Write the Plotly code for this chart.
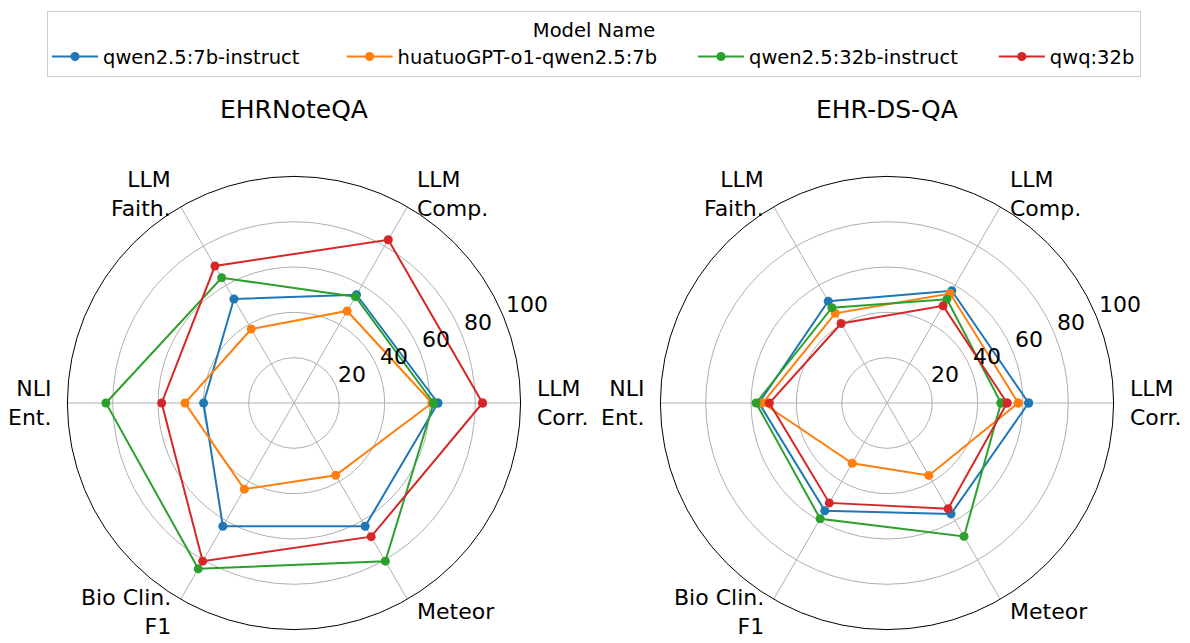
import math
import plotly.graph_objects as go

metrics = ["LLM<br>Corr.", "LLM<br>Comp.", "LLM<br>Faith.", "NLI<br>Ent.", "Bio Clin.<br>F1", "Meteor"]
models = ["qwen2.5:7b-instruct", "huatuoGPT-o1-qwen2.5:7b", "qwen2.5:32b-instruct", "qwq:32b"]
colors = ["#1f77b4", "#ff7f0e", "#2ca02c", "#d62728"]

# EHRNoteQA scores (order of metrics)
ehrnoteqa = {
    "qwen2.5:7b-instruct":      [63.5, 55.2, 53.0, 39.9, 62.8, 62.8],
    "huatuoGPT-o1-qwen2.5:7b":  [60.9, 46.9, 37.7, 48.1, 43.9, 36.8],
    "qwen2.5:32b-instruct":     [61.6, 54.2, 63.8, 83.0, 84.5, 80.6],
    "qwq:32b":                  [83.2, 83.2, 69.8, 58.4, 80.6, 68.1],
}
# EHR-DS-QA scores
ehrdsqa = {
    "qwen2.5:7b-instruct":      [62.5, 57.2, 51.9, 56.5, 54.9, 56.5],
    "huatuoGPT-o1-qwen2.5:7b":  [57.9, 55.8, 45.7, 54.9, 30.7, 36.9],
    "qwen2.5:32b-instruct":     [50.3, 52.9, 48.6, 57.8, 59.0, 68.0],
    "qwq:32b":                  [53.0, 49.5, 40.5, 51.9, 50.9, 53.9],
}
titles = ["EHRNoteQA", "EHR-DS-QA"]
radial_ticks = [20, 40, 60, 80, 100]
R_MAX = 100

W, H = 1190, 643
OFF = 8          # page body margin of the browser
FONT = "DejaVu Sans"
RAD = 226.6
CENTERS = [(294 - OFF, 403 - OFF), (887 - OFF, 403 - OFF)]
LABEL_ANGLE = 22.5

fig = go.Figure()
for pi, data in enumerate([ehrnoteqa, ehrdsqa]):
    sub = "polar" if pi == 0 else "polar2"
    for k, (m, c) in enumerate(zip(models, colors)):
        vals = data[m]
        pad = "\u00a0" * (6 if k == 0 else (5 if k < len(models) - 1 else 0))
        fig.add_trace(go.Scatterpolar(
            r=vals + vals[:1], theta=metrics + metrics[:1],
            mode="lines+markers", name=m + pad,
            subplot=sub,
            line=dict(color=c, width=2), marker=dict(color=c, size=9),
            showlegend=(pi == 0), legendgroup=m,
        ))

def polar_layout(cx, cy, rad):
    return dict(
        domain=dict(x=[(cx - rad) / W, (cx + rad) / W],
                    y=[(H - cy - rad) / H, (H - cy + rad) / H]),
        bgcolor="white",
        radialaxis=dict(range=[0, R_MAX], tickvals=radial_ticks, angle=LABEL_ANGLE,
                        showticklabels=False,
                        showline=False, ticks="", gridcolor="#b0b0b0", gridwidth=1),
        angularaxis=dict(rotation=0, direction="counterclockwise", type="category",
                         showline=True, linecolor="black", linewidth=1,
                         gridcolor="#b0b0b0", gridwidth=1, ticks="",
                         showticklabels=False),
    )

annotations = []
for (cx, cy), t in zip(CENTERS, titles):
    annotations.append(dict(text=t, x=cx / W, y=1 - (110 - OFF) / H, xref="paper", yref="paper",
                            showarrow=False, font=dict(size=25), xanchor="center", yanchor="middle"))
    # angular category labels, just outside the outer circle
    for i, lab in enumerate(metrics):
        ang = math.radians(60 * i)
        rr = RAD + 14.5
        x = cx + rr * math.cos(ang)
        y = cy - rr * math.sin(ang)
        left = math.cos(ang) > 0
        annotations.append(dict(text=lab, x=x / W, y=1 - y / H, xref="paper", yref="paper",
                                showarrow=False, font=dict(size=22),
                                xanchor="left" if left else "right", yanchor="middle",
                                align="left" if left else "right"))
    # radial tick labels along the 22.5 degree direction
    a = math.radians(LABEL_ANGLE)
    for v in radial_ticks:
        d = v / R_MAX * RAD
        x = cx + d * math.cos(a) + 0.5
        y = cy - d * math.sin(a) - 11.5
        annotations.append(dict(text=str(v), x=x / W, y=1 - y / H, xref="paper", yref="paper",
                                showarrow=False, font=dict(size=22),
                                xanchor="left", yanchor="middle"))

fig.update_layout(
    width=W, height=H,
    margin=dict(l=0, r=0, t=0, b=0),
    paper_bgcolor="white", plot_bgcolor="white",
    font=dict(family=FONT, color="black"),
    polar=polar_layout(CENTERS[0][0], CENTERS[0][1], RAD),
    polar2=polar_layout(CENTERS[1][0], CENTERS[1][1], RAD),
    legend=dict(orientation="h", x=(47 - OFF) / W, xanchor="left", y=1 - (11 - OFF) / H,
                yanchor="top",
                title=dict(text="Model Name", side="top center", font=dict(size=19.5)),
                font=dict(size=19.5), bordercolor="#cccccc", borderwidth=1,
                bgcolor="white", itemwidth=46),
    annotations=annotations,
)

fig.write_html("out.html")
